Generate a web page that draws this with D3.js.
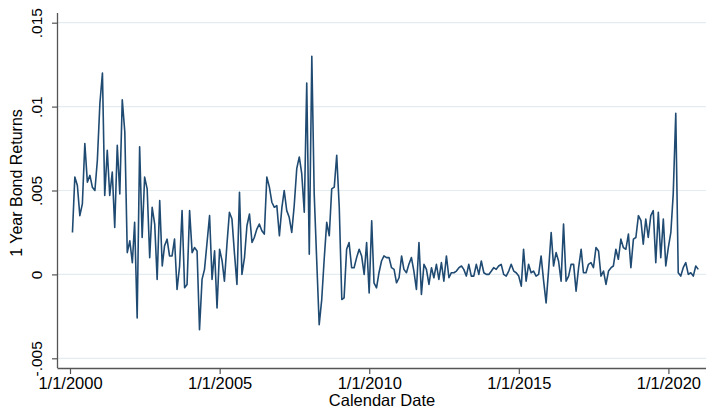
<!DOCTYPE html>
<html>
<head>
<meta charset="utf-8">
<script src="https://cdn.jsdelivr.net/npm/d3@7"></script>
<style>
  html, body { margin: 0; padding: 0; background: #ffffff; }
  svg { display: block; }
  text { font-family: "Liberation Sans", Arial, Helvetica, sans-serif; fill: #000; }
</style>
</head>
<body>
<svg id="chart" width="706" height="408"></svg>
<script>
// Monthly 1-year bond returns, Jan 2000 through Dec 2020 (month-end observations)
const startYear = 2000;
const startMonth = 0;
const returns2000_2004 = [
  0.0025, 0.0058, 0.0053, 0.0035, 0.0042, 0.0078, 0.0055, 0.0059, 0.0052, 0.0050, 0.0068, 0.0102,
  0.0120, 0.0047, 0.0074, 0.0047, 0.0061, 0.0028, 0.0077, 0.0048, 0.0104, 0.0085, 0.0013, 0.0020,
  0.0007, 0.0031, -0.0026, 0.0076, 0.0022, 0.0058, 0.0051, 0.0010, 0.0040, 0.0030, -0.0003, 0.0044,
  0.0005, 0.0017, 0.0021, 0.0011, 0.0011, 0.0021, -0.0009, 0.0005, 0.0038, -0.0008, -0.0006, 0.0038,
  0.0013, 0.0016, 0.0014, -0.0033, -0.0003, 0.0003, 0.0019, 0.0035, -0.0003, 0.0014, -0.0020, 0.0015
];
const returns2005_2009 = [
  0.0008, -0.0004, 0.0018, 0.0037, 0.0033, 0.0013, -0.0006, 0.0049, 0.0000, 0.0010, 0.0029, 0.0036,
  0.0019, 0.0022, 0.0027, 0.0030, 0.0026, 0.0024, 0.0058, 0.0052, 0.0043, 0.0040, 0.0041, 0.0023,
  0.0040, 0.0050, 0.0038, 0.0034, 0.0025, 0.0041, 0.0063, 0.0070, 0.0060, 0.0037, 0.0114, 0.0012,
  0.0130, 0.0048, 0.0008, -0.0030, -0.0015, 0.0009, 0.0031, 0.0023, 0.0051, 0.0052, 0.0071, 0.0040,
  -0.0015, -0.0014, 0.0015, 0.0019, 0.0004, 0.0004, 0.0010, 0.0015, 0.0011, 0.0000, 0.0019, -0.0011
];
const returns2010_2014 = [
  0.0032, -0.0005, -0.0008, 0.0001, 0.0008, 0.0011, 0.0010, 0.0010, 0.0004, 0.0003, -0.0005, -0.0002,
  0.0011, 0.0003, 0.0001, 0.0006, 0.0010, 0.0002, -0.0009, 0.0019, -0.0012, 0.0006, 0.0003, -0.0006,
  0.0004, -0.0002, 0.0006, -0.0003, 0.0007, -0.0004, 0.0011, -0.0002, 0.0001, 0.0001, 0.0002, 0.0004,
  0.0005, 0.0003, -0.0001, 0.0006, -0.0001, -0.0001, 0.0006, 0.0000, 0.0008, 0.0001, 0.0000, 0.0000,
  0.0002, 0.0004, 0.0003, 0.0005, 0.0006, 0.0000, -0.0001, 0.0002, 0.0006, 0.0002, 0.0001, -0.0001
];
const returns2015_2020 = [
  -0.0007, 0.0015, -0.0004, 0.0006, 0.0001, 0.0002, -0.0001, 0.0000, 0.0011, -0.0004, -0.0017, 0.0003,
  0.0025, 0.0005, 0.0013, 0.0008, -0.0004, 0.0030, -0.0004, -0.0001, 0.0006, 0.0006, -0.0010, 0.0004,
  0.0015, 0.0001, 0.0001, 0.0006, 0.0007, 0.0004, 0.0016, 0.0014, -0.0001, 0.0002, -0.0006, 0.0002,
  0.0004, 0.0005, 0.0015, 0.0009, 0.0021, 0.0016, 0.0015, 0.0024, 0.0004, 0.0021, 0.0022, 0.0035,
  0.0032, 0.0018, 0.0033, 0.0022, 0.0035, 0.0038, 0.0007, 0.0037, 0.0010, 0.0033, 0.0005, 0.0016,
  0.0025, 0.0048, 0.0096, 0.0001, -0.0001, 0.0004, 0.0007, 0.0000, 0.0001, -0.0001, 0.0005, 0.0003
];

const yTicks = [-0.005, 0, 0.005, 0.01, 0.015];
const yTickLabels = ["-.005", "0", ".005", ".01", ".015"];
const xTickYears = [2000, 2005, 2010, 2015, 2020];
const xTickLabels = ["1/1/2000", "1/1/2005", "1/1/2010", "1/1/2015", "1/1/2020"];
const yTitle = "1 Year Bond Returns";
const xTitle = "Calendar Date";

const values = [].concat(returns2000_2004, returns2005_2009, returns2010_2014, returns2015_2020);
// each observation dated at the last day of its month
const series = values.map((v, i) => ({ date: new Date(startYear, startMonth + i + 1, 0), value: v }));

const svg = d3.select("#chart");
const axisX = 58, axisY = 368, rightEdge = 706, topEdge = 13;

const x = d3.scaleTime()
  .domain([new Date(2000, 0, 1), new Date(2020, 0, 1)])
  .range([70, 668.4]);
const y = d3.scaleLinear()
  .domain([-0.005, 0.015])
  .range([358.3, 22.7]);

// horizontal grid
svg.append("g").selectAll("line").data(yTicks).join("line")
  .attr("x1", axisX).attr("x2", rightEdge)
  .attr("y1", d => y(d)).attr("y2", d => y(d))
  .attr("stroke", "#e3ecf0").attr("stroke-width", 1.2);

// y axis
const yAxis = d3.axisLeft(y).tickValues(yTicks).tickSize(6)
  .tickFormat((d, i) => yTickLabels[i]);
const gy = svg.append("g").attr("transform", `translate(${axisX},0)`).call(yAxis);
gy.select(".domain").attr("d", `M-0.5,${topEdge}V${axisY}`).attr("stroke", "#555").attr("stroke-width", 1.3);
gy.selectAll(".tick line").attr("stroke", "#555").attr("stroke-width", 1.2);
gy.selectAll(".tick text")
  .attr("x", null).attr("dy", null)
  .attr("transform", "translate(-16,0) rotate(-90)")
  .attr("text-anchor", "middle")
  .style("font-size", "15.5px")
  .style("font-family", "'Liberation Sans', Arial, sans-serif")
  .attr("fill", "#111");

// x axis
const xAxis = d3.axisBottom(x)
  .tickValues(xTickYears.map(yr => new Date(yr, 0, 1)))
  .tickSize(6)
  .tickFormat((d, i) => xTickLabels[i]);
const gx = svg.append("g").attr("transform", `translate(0,${axisY})`).call(xAxis);
gx.select(".domain").attr("d", `M${axisX - 0.5},0.5H${rightEdge}`).attr("stroke", "#555").attr("stroke-width", 1.3);
gx.selectAll(".tick line").attr("stroke", "#555").attr("stroke-width", 1.2);
gx.selectAll(".tick text")
  .attr("y", 9).attr("dy", "0.71em")
  .style("font-size", "16.5px")
  .style("font-family", "'Liberation Sans', Arial, sans-serif")
  .attr("fill", "#111");

// series line
const line = d3.line()
  .x(d => x(d.date))
  .y(d => y(d.value));
svg.append("path")
  .datum(series)
  .attr("d", line)
  .attr("fill", "none")
  .attr("stroke", "#1f4a72")
  .attr("stroke-width", 1.6)
  .attr("stroke-linejoin", "round");

// axis titles
svg.append("text")
  .attr("transform", "translate(22,183) rotate(-90)")
  .attr("text-anchor", "middle")
  .style("font-size", "16px")
  .text(yTitle);
svg.append("text")
  .attr("x", 382).attr("y", 406)
  .attr("text-anchor", "middle")
  .style("font-size", "16.5px")
  .text(xTitle);
</script>
</body>
</html>
